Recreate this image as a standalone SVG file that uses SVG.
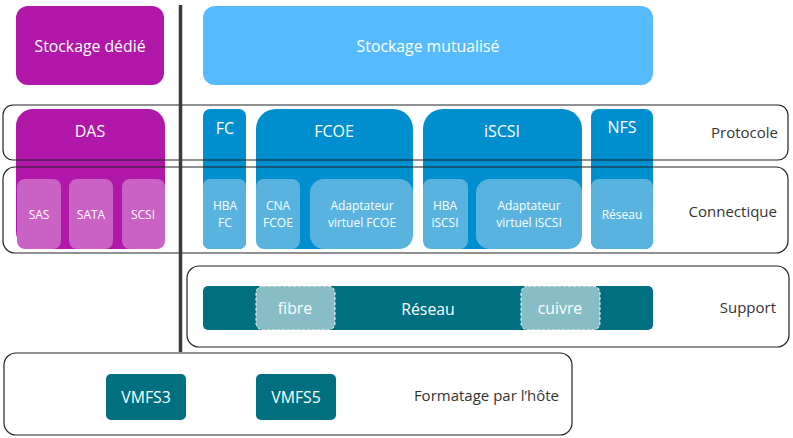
<svg xmlns="http://www.w3.org/2000/svg" width="793" height="438" viewBox="0 0 793 438">
<style>
text{font-family:"Open Sans","Noto Sans","Liberation Sans",sans-serif;fill:#fff;text-anchor:middle;dominant-baseline:central}
.lbl{fill:#333;font-size:15px;text-anchor:end}
.big{font-size:15.8px}
.mid{font-size:16px}
.sm{font-size:12px}
.band{fill:none;stroke:#222;stroke-width:1.2}
.purple{fill:#B117A8}
.lpurple{fill:#CA62C5}
.blue{fill:#008FCE}
.lblue{fill:#58B4DF}
.sky{fill:#56BBFD}
.teal{fill:#007080}
.lteal{fill:#89BDC6;stroke:#fff;stroke-width:1;stroke-dasharray:3 2}
</style>
<g id="stockage-dedie"><rect class="purple" x="16" y="6" width="148" height="79" rx="12"/><text class="big" x="90" y="46">Stockage dédié</text></g>
<g id="stockage-mutualise"><rect class="sky" x="203" y="6" width="450" height="79" rx="12"/><text class="big" x="428" y="46">Stockage mutualisé</text></g>

<g id="das"><rect class="purple" x="16" y="109" width="149" height="140" rx="17"/><text class="mid" x="90" y="131">DAS</text>
<g id="sas"><rect class="lpurple" x="17" y="179" width="44" height="70" rx="8"/><text class="sm" x="39" y="214">SAS</text></g>
<g id="sata"><rect class="lpurple" x="69" y="179" width="44" height="70" rx="8"/><text class="sm" x="91" y="214">SATA</text></g>
<g id="scsi"><rect class="lpurple" x="122" y="179" width="43" height="70" rx="8"/><text class="sm" x="143" y="214">SCSI</text></g>
</g>

<g id="fc"><rect class="blue" x="203" y="109" width="43" height="140" rx="7"/><text class="mid" x="225" y="128">FC</text>
<g id="hba-fc"><rect class="lblue" x="203" y="179" width="43" height="70" rx="7"/><text class="sm" x="225" y="205.5">HBA</text><text class="sm" x="225" y="222.5">FC</text></g>
</g>

<g id="fcoe"><rect class="blue" x="256" y="109" width="157" height="140" rx="20"/><text class="mid" x="334" y="131">FCOE</text>
<g id="cna-fcoe"><rect class="lblue" x="256" y="179" width="44" height="70" rx="8"/><text class="sm" x="278" y="205.5">CNA</text><text class="sm" x="278" y="222.5">FCOE</text></g>
<g id="adapt-fcoe"><rect class="lblue" x="310" y="179" width="103" height="70" rx="14"/><text class="sm" x="362" y="205.5">Adaptateur</text><text class="sm" x="362" y="222.5">virtuel FCOE</text></g>
</g>

<g id="iscsi"><rect class="blue" x="423" y="109" width="159" height="140" rx="20"/><text class="mid" x="502" y="131">iSCSI</text>
<g id="hba-iscsi"><rect class="lblue" x="423" y="179" width="45" height="70" rx="8"/><text class="sm" x="445" y="205.5">HBA</text><text class="sm" x="445" y="222.5">iSCSI</text></g>
<g id="adapt-iscsi"><rect class="lblue" x="476" y="179" width="106" height="70" rx="14"/><text class="sm" x="529" y="205.5">Adaptateur</text><text class="sm" x="529" y="222.5">virtuel iSCSI</text></g>
</g>

<g id="nfs"><rect class="blue" x="591" y="109" width="62" height="140" rx="8"/><text class="mid" x="622" y="127">NFS</text>
<g id="reseau-nfs"><rect class="lblue" x="591" y="179" width="62" height="70" rx="8"/><text class="sm" x="622" y="214">Réseau</text></g>
</g>

<g id="reseau"><rect class="teal" x="203" y="286" width="450" height="44" rx="5"/><text class="big" x="428" y="309">Réseau</text>
<g id="fibre"><rect class="lteal" x="256" y="286" width="79" height="44" rx="7"/><text class="big" x="295" y="308">fibre</text></g>
<g id="cuivre"><rect class="lteal" x="521" y="286" width="79" height="44" rx="7"/><text class="big" x="560" y="308">cuivre</text></g>
</g>

<g id="vmfs3"><rect class="teal" x="106" y="374" width="80" height="46" rx="5"/><text class="big" x="146" y="397">VMFS3</text></g>
<g id="vmfs5"><rect class="teal" x="256" y="374" width="80" height="46" rx="5"/><text class="big" x="296" y="397">VMFS5</text></g>

<g id="bands">
<g id="protocole"><rect class="band" x="3" y="105" width="785" height="55" rx="10"/><text class="lbl" x="778" y="132">Protocole</text></g>
<g id="connectique"><rect class="band" x="3" y="167" width="785" height="86" rx="12"/><text class="lbl" x="777" y="211">Connectique</text></g>
<g id="support"><rect class="band" x="187" y="266" width="602" height="81" rx="12"/><text class="lbl" x="776" y="307">Support</text></g>
<g id="formatage"><rect class="band" x="4" y="353" width="568" height="82" rx="12"/><text class="lbl" x="559" y="395">Formatage par l’hôte</text></g>
</g>

<g id="connectors"><line x1="180.5" y1="5" x2="180.5" y2="352" stroke="#3a3a42" stroke-width="3.5"/></g>
</svg>
